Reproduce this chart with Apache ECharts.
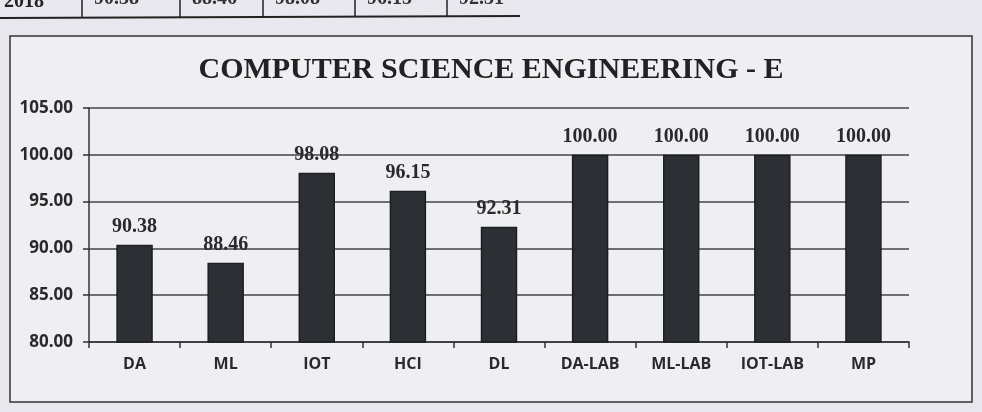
<!DOCTYPE html>
<html><head><meta charset="utf-8">
<script src="https://cdn.jsdelivr.net/npm/echarts@6/dist/echarts.min.js"></script>
<style>html,body{margin:0;padding:0;background:#e9e8ee}#c{width:982px;height:412px}</style>
</head><body><div id="c"></div>
<script>
const categories = ['DA','ML','IOT','HCI','DL','DA-LAB','ML-LAB','IOT-LAB','MP'];
const values = [90.38, 88.46, 98.08, 96.15, 92.31, 100.00, 100.00, 100.00, 100.00];
const yTicks = [80, 85, 90, 95, 100, 105];
const tableYear = '2018';
const tableValues = ['90.38','88.46','98.08','96.15','92.31'];

const chart = echarts.init(document.getElementById('c'));
const tableCellX = [82, 180, 263, 355, 447];
const graphics = [
  {type:'rect', shape:{x:10,y:36,width:962,height:366}, style:{fill:'#efeef3',stroke:'#333',lineWidth:1.5}, z:-10},
  {type:'line', shape:{x1:0,y1:18,x2:520,y2:16}, style:{stroke:'#222',lineWidth:2}},
  {type:'text', left:4, top:-8, style:{text:tableYear, font:'bold 20px "Liberation Serif"', fill:'#222'}}
];
tableCellX.forEach((x,i)=>{
  graphics.push({type:'line', shape:{x1:x,y1:0,x2:x,y2:17}, style:{stroke:'#222',lineWidth:1.5}});
  graphics.push({type:'text', left:x+12, top:-11, style:{text:tableValues[i], font:'bold 20px "Liberation Serif"', fill:'#333'}});
});

chart.setOption({
  backgroundColor:'#e9e8ee',
  title:{text:'COMPUTER SCIENCE ENGINEERING - E', left:'center', top:50,
    textStyle:{fontFamily:'Liberation Serif', fontWeight:'bold', fontSize:30, color:'#222'}},
  graphic: graphics,
  grid:{left:89, right:73, top:108, bottom:70},
  xAxis:{type:'category', data:categories,
    axisLine:{lineStyle:{color:'#333',width:1.5}},
    axisTick:{show:true, length:6, lineStyle:{color:'#333',width:1.5}},
    axisLabel:{fontFamily:'Open Sans', fontWeight:'bold', fontSize:16, color:'#2a2a2a', margin:14}},
  yAxis:{type:'value', min:80, max:105, interval:5,
    axisLine:{show:true, lineStyle:{color:'#333',width:1.5}},
    axisTick:{show:true, length:6, lineStyle:{color:'#333',width:1.5}},
    splitLine:{lineStyle:{color:'#444',width:1.5}},
    axisLabel:{fontFamily:'Open Sans', fontWeight:'bold', fontSize:17, color:'#2a2a2a', margin:16,
      formatter:v=> yTicks.includes(v) ? v.toFixed(2) : ''}},
  series:[{type:'bar', data:values, barWidth:'40%',
    itemStyle:{color:'#2c3035', borderColor:'#1c1e21', borderWidth:1.5},
    label:{show:true, position:'top', distance:8, formatter:p=>p.value.toFixed(2),
      fontFamily:'Liberation Serif', fontWeight:'bold', fontSize:20, color:'#2a2a2a'}}]
});
</script></body></html>
